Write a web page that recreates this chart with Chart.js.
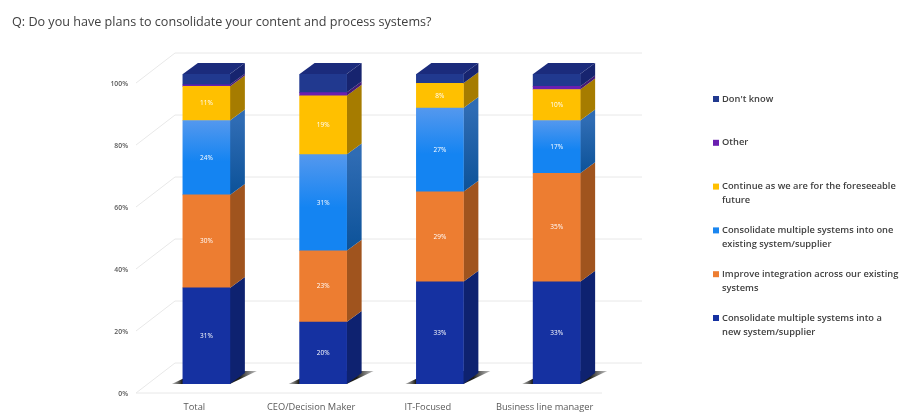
<!DOCTYPE html>
<html>
<head>
<meta charset="utf-8">
<title>Consolidation plans</title>
<script src="https://cdn.jsdelivr.net/npm/chart.js@4/dist/chart.umd.min.js"></script>
<style>
  html, body { margin: 0; padding: 0; background: #fff; }
  #wrap { width: 900px; height: 414px; }
</style>
</head>
<body>
<div id="wrap"><canvas id="chart" width="900" height="414"></canvas></div>
<script>
const questionText = 'Q: Do you have plans to consolidate your content and process systems?';
const groups = ['Total', 'CEO/Decision Maker', 'IT-Focused', 'Business line manager'];
const tickValues = [0, 20, 40, 60, 80, 100];

// Bottom to top in each stack
const newSupplier = [31, 20, 33, 33];
const improveIntegration = [30, 23, 29, 35];
const existingSupplier = [24, 31, 27, 17];
const carryOn = [11, 19, 8, 10];
const otherAnswer = [0.5, 1, 0, 1];
const dontKnow = [3.5, 6, 3, 4];

const seriesNames = [
    'Consolidate multiple systems into a new system/supplier',
    'Improve integration across our existing systems',
    'Consolidate multiple systems into one existing system/supplier',
    'Continue as we are for the foreseeable future',
    'Other',
    "Don't know"
];
const legendLines = [
    ['Consolidate multiple systems into a', 'new system/supplier'],
    ['Improve integration across our existing', 'systems'],
    ['Consolidate multiple systems into one', 'existing system/supplier'],
    ['Continue as we are for the foreseeable', 'future'],
    ['Other'],
    ["Don't know"]
];

const faceColors = ['#1531a1', '#ed7d31', '#1a86f0', '#ffc000', '#6a1fb0', '#21398f'];
const sideColors = ['#0e2270', '#a0541e', '#125da8', '#a67c00', '#451a75', '#17246f'];
const labelledSeries = [0, 1, 2, 3];

// Depth of the extrusion and of the floor around the bars
const depthX = 15;
const depthY = -11;
const wallX = 27;
const wallY = -21;
const floorX = -12;
const floorY = 9;
const gridRight = 642;

const textFont = '"Open Sans", sans-serif';

// The blue segments fade from light at the top to saturated at the bottom
function blueFace(context, top, bottom) {
    const { chart, dataIndex } = context;
    const y = chart.scales.y;
    if (!y || !chart.chartArea) return top;
    const below = newSupplier[dataIndex] + improveIntegration[dataIndex];
    const g = chart.ctx.createLinearGradient(0, y.getPixelForValue(below + existingSupplier[dataIndex]), 0, y.getPixelForValue(below));
    g.addColorStop(0, top);
    g.addColorStop(0.55, bottom);
    g.addColorStop(1, bottom);
    return g;
}

const extrusion = {
    id: 'extrusion',
    beforeDatasetsDraw(chart) {
        const { ctx, scales: { y } } = chart;
        const left = chart.chartArea.left;
        ctx.save();

        // back wall lines, left wall diagonals and the front edge of the floor
        ctx.strokeStyle = '#e8e8e8';
        ctx.lineWidth = 1;
        tickValues.forEach(v => {
            const py = y.getPixelForValue(v);
            ctx.beginPath();
            ctx.moveTo(left + floorX, py + floorY);
            ctx.lineTo(left + wallX, py + wallY);
            ctx.lineTo(gridRight, py + wallY);
            ctx.stroke();
        });
        const floor = y.getPixelForValue(0) + floorY;
        ctx.beginPath();
        ctx.moveTo(left + floorX, floor);
        ctx.lineTo(gridRight - 40, floor);
        ctx.stroke();

        // shadows on the floor
        chart.getDatasetMeta(0).data.forEach(bar => {
            const x0 = bar.x - bar.width / 2;
            const x1 = bar.x + bar.width / 2;
            const b = bar.base;
            const g = ctx.createLinearGradient(x0 - 11, 0, x1 + 27, 0);
            g.addColorStop(0, 'rgba(110,110,110,0.5)');
            g.addColorStop(0.12, 'rgba(30,30,25,1)');
            g.addColorStop(0.8, 'rgba(30,30,25,1)');
            g.addColorStop(1, 'rgba(110,110,110,0.45)');
            ctx.fillStyle = g;
            ctx.beginPath();
            ctx.moveTo(x0 - 11, b);
            ctx.lineTo(x1, b);
            ctx.lineTo(x1 + 27, b - 13);
            ctx.lineTo(x0 + 16, b - 13);
            ctx.closePath();
            ctx.fill();
        });

        // right-hand side of every segment
        chart.data.datasets.forEach((ds, i) => {
            chart.getDatasetMeta(i).data.forEach(bar => {
                if (Math.abs(bar.base - bar.y) < 0.01) return;
                const x1 = bar.x + bar.width / 2;
                ctx.fillStyle = sideColors[i];
                if (i === 2) {
                    const g = ctx.createLinearGradient(0, bar.y, 0, bar.base);
                    g.addColorStop(0, '#2f6cb4');
                    g.addColorStop(1, '#0c5299');
                    ctx.fillStyle = g;
                }
                ctx.beginPath();
                ctx.moveTo(x1, bar.base);
                ctx.lineTo(x1 + depthX, bar.base + depthY);
                ctx.lineTo(x1 + depthX, bar.y + depthY);
                ctx.lineTo(x1, bar.y);
                ctx.closePath();
                ctx.fill();
            });
        });

        // lid on top of the last segment
        chart.getDatasetMeta(chart.data.datasets.length - 1).data.forEach(bar => {
            const x0 = bar.x - bar.width / 2;
            const x1 = bar.x + bar.width / 2;
            ctx.fillStyle = '#1b2b7c';
            ctx.beginPath();
            ctx.moveTo(x0, bar.y);
            ctx.lineTo(x1, bar.y);
            ctx.lineTo(x1 + depthX, bar.y + depthY);
            ctx.lineTo(x0 + depthX, bar.y + depthY);
            ctx.closePath();
            ctx.fill();
        });
        ctx.restore();
    },
    afterDatasetsDraw(chart) {
        const { ctx } = chart;
        ctx.save();
        ctx.font = '6.5px ' + textFont;
        ctx.fillStyle = '#ffffff';
        ctx.textAlign = 'center';
        ctx.textBaseline = 'middle';
        labelledSeries.forEach(i => {
            const ds = chart.data.datasets[i];
            chart.getDatasetMeta(i).data.forEach((bar, j) => {
                ctx.fillText(ds.data[j] + '%', bar.x, (bar.y + bar.base) / 2);
            });
        });
        ctx.restore();
    }
};

// Right-hand key, one entry per series with wrapped names, Don't know first
const sideLegend = {
    id: 'sideLegend',
    afterDraw(chart) {
        const { ctx } = chart;
        ctx.save();
        ctx.font = '600 9.3px ' + textFont;
        ctx.textAlign = 'left';
        ctx.textBaseline = 'middle';
        const order = [5, 4, 3, 2, 1, 0];
        order.forEach((s, row) => {
            const rowY = 99 + row * 43.8;
            ctx.fillStyle = faceColors[s];
            ctx.fillRect(713, rowY - 3, 6, 6);
            ctx.fillStyle = '#404040';
            legendLines[s].forEach((line, k) => {
                ctx.fillText(line, 722, rowY + k * 14);
            });
        });
        ctx.restore();
    }
};

new Chart(document.getElementById('chart'), {
    type: 'bar',
    data: {
        labels: groups,
        datasets: [newSupplier, improveIntegration, existingSupplier, carryOn, otherAnswer, dontKnow].map((values, i) => ({
            label: seriesNames[i],
            data: values,
            backgroundColor: i === 2 ? (c => blueFace(c, '#5498ee', '#1484f2')) : faceColors[i],
            borderWidth: 0,
            barThickness: 47
        }))
    },
    options: {
        responsive: false,
        animation: false,
        layout: { padding: { left: 12, right: 285, top: 12, bottom: 0 } },
        plugins: {
            legend: { display: false },
            tooltip: { enabled: false },
            title: {
                display: true,
                text: questionText,
                align: 'start',
                color: '#404040',
                font: { family: textFont, size: 12.6, weight: 'normal', lineHeight: 1.2 },
                padding: { top: 2.4, bottom: 44.5 }
            }
        },
        scales: {
            x: {
                stacked: true,
                grid: { display: false, drawTicks: false },
                border: { display: false },
                afterFit(scale) { scale.height = 30; },
                ticks: {
                    color: '#595959',
                    font: { family: textFont, size: 9.3 },
                    padding: 18,
                    labelOffset: -12,
                    autoSkip: false,
                    maxRotation: 0
                }
            },
            y: {
                stacked: true,
                min: 0,
                max: 100,
                grid: { display: false, drawTicks: false },
                border: { display: false },
                afterFit(scale) { scale.width = 136; },
                afterBuildTicks(scale) { scale.ticks = tickValues.map(value => ({ value })); },
                ticks: {
                    color: '#595959',
                    font: { family: textFont, size: 6.8, weight: '600' },
                    padding: 20,
                    labelOffset: 10,
                    callback: v => v + '%'
                }
            }
        }
    },
    plugins: [extrusion, sideLegend]
});
</script>
</body>
</html>
